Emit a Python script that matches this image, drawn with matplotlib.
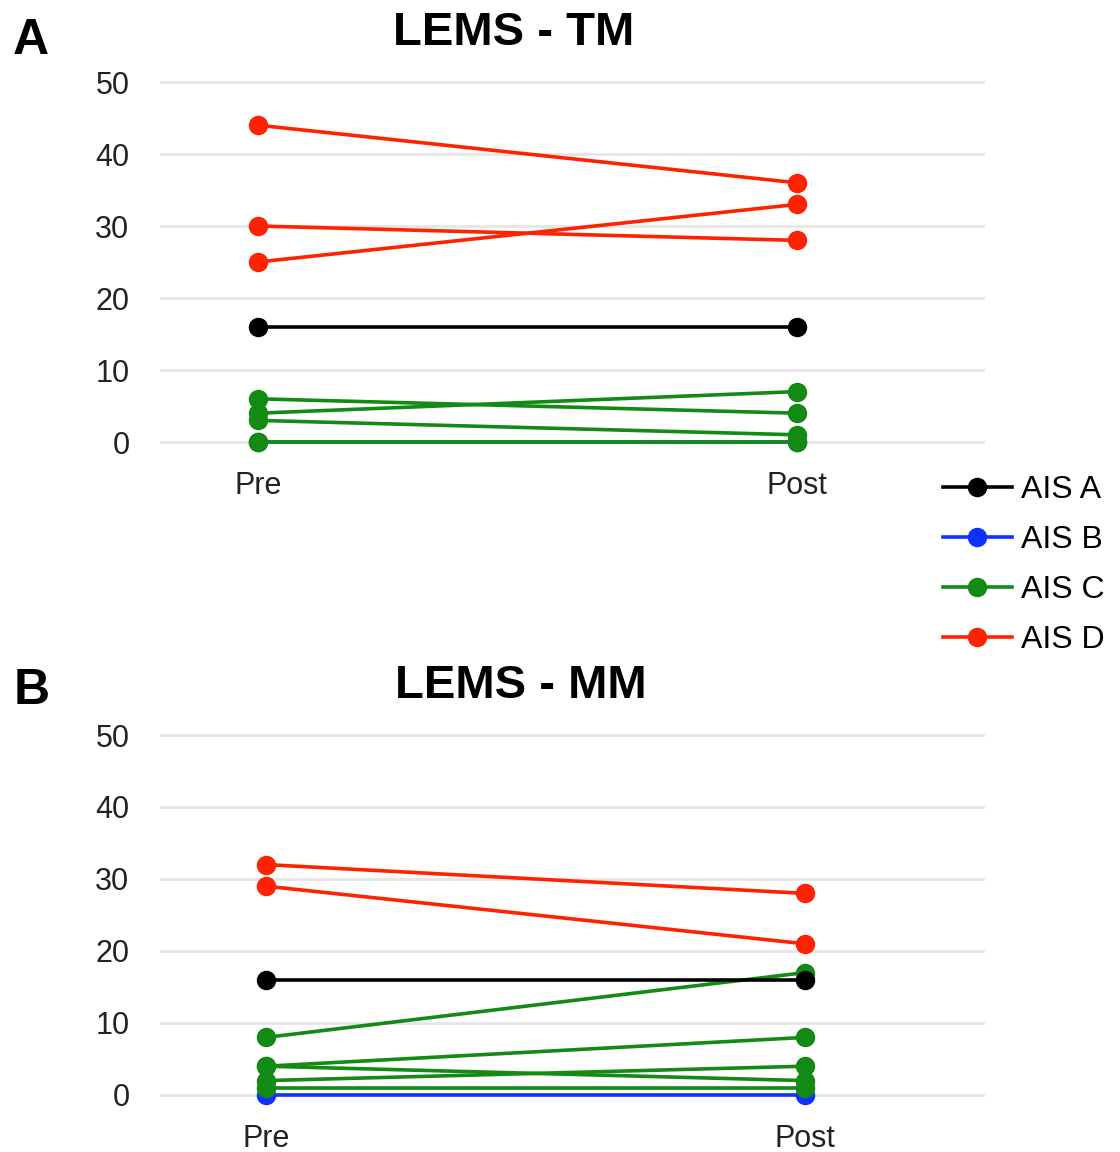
import matplotlib
matplotlib.use("Agg")
import matplotlib.pyplot as plt
from matplotlib.lines import Line2D

plt.rcParams['font.family'] = ['Liberation Sans', 'DejaVu Sans']

timepoints = ["Pre", "Post"]
ais_levels = ["AIS A", "AIS B", "AIS C", "AIS D"]
ais_colors = {"AIS A": "#000000", "AIS B": "#1030ff", "AIS C": "#138a13", "AIS D": "#ff2200"}

# Panel A: LEMS - TM
tm_group = ["AIS D", "AIS D", "AIS D", "AIS A", "AIS C", "AIS C", "AIS C", "AIS C", "AIS B"]
tm_pre = [44, 30, 25, 16, 6, 4, 3, 0, 0]
tm_post = [36, 28, 33, 16, 4, 7, 1, 0, 0]

# Panel B: LEMS - MM
mm_group = ["AIS D", "AIS D", "AIS A", "AIS C", "AIS C", "AIS C", "AIS C", "AIS C", "AIS B"]
mm_pre = [32, 29, 16, 8, 4, 4, 2, 1, 0]
mm_post = [28, 21, 16, 17, 8, 2, 4, 1, 0]

yticks = [0, 10, 20, 30, 40, 50]

W, H = 1120, 1152
fig = plt.figure(figsize=(W / 100, H / 100), dpi=100)

draw_order = ["AIS B", "AIS C", "AIS A", "AIS D"]


def panel(rect, groups, pre, post, title, title_xy, letter, letter_xy, xlim):
    ax = fig.add_axes(rect)
    for g in draw_order:
        for grp, a, b in zip(groups, pre, post):
            if grp != g:
                continue
            ax.plot([0, 1], [a, b], color=ais_colors[g], lw=2.6, marker="o",
                    markersize=13, solid_capstyle="round", zorder=3)
    ax.set_xlim(*xlim)
    ax.set_ylim(-2.5, 52.5)
    ax.set_xticks([0, 1])
    ax.set_xticklabels(timepoints, fontsize=22, color="#222222")
    ax.set_yticks(yticks)
    ax.set_yticklabels([str(v) for v in yticks], fontsize=22, color="#222222")
    ax.tick_params(axis="y", length=0, pad=22)
    ax.tick_params(axis="x", length=0, pad=8)
    for s in ax.spines.values():
        s.set_visible(False)
    ax.grid(axis="y", color="#e6e6e6", lw=2)
    ax.set_axisbelow(True)
    fig.text(title_xy[0] / W, 1 - title_xy[1] / H, title, fontsize=34,
             fontweight="bold", ha="center", va="center")
    fig.text(letter_xy[0] / W, 1 - letter_xy[1] / H, letter, fontsize=36,
             fontweight="bold", ha="center", va="center")
    return ax


axh = 396 / H
panel([160 / W, 1 - 460 / H, 825 / W, axh], tm_group, tm_pre, tm_post,
      "LEMS - TM", (514, 33), "A", (31, 41), (-98 / 539, 1 + 188 / 539))
panel([160 / W, 1 - 1113 / H, 825 / W, axh], mm_group, mm_pre, mm_post,
      "LEMS - MM", (521, 686), "B", (32, 691), (-106 / 539, 1 + 180 / 539))

handles = [Line2D([0], [0], color=ais_colors[g], lw=2.6, marker="o", markersize=13)
           for g in ais_levels]
fig.legend(handles, ais_levels, loc="center left", bbox_to_anchor=(943 / W, 1 - 565 / H),
           frameon=False, fontsize=23, handlelength=2.15, handletextpad=0.3,
           labelspacing=0.62, borderpad=0, borderaxespad=0)

fig.savefig("out.png", dpi=100)
